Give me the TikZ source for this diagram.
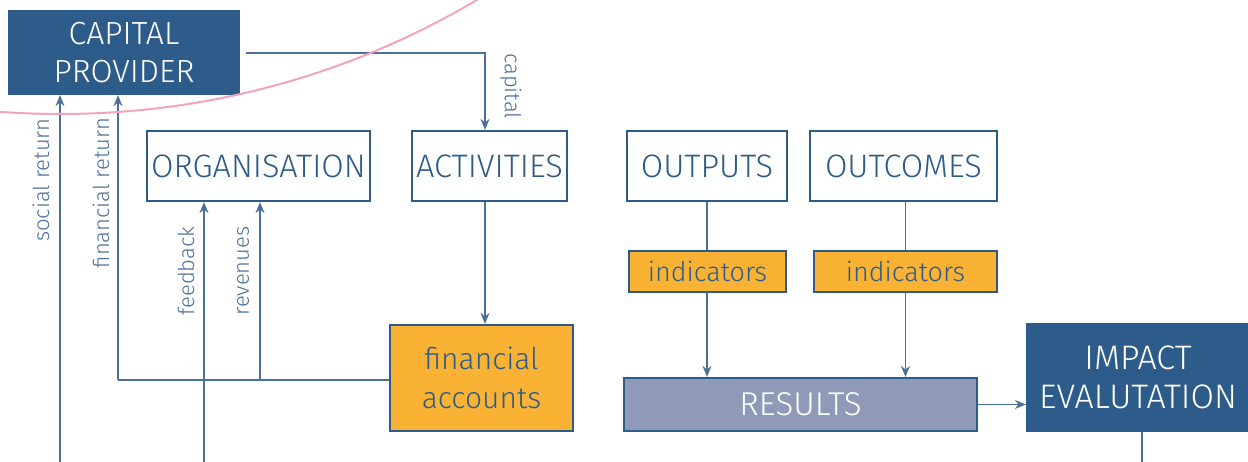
\documentclass[tikz,border=0pt]{standalone}
\usepackage{fontspec}
\setmainfont{Fira Sans}[UprightFont={* Light}]
\usetikzlibrary{arrows.meta}
\definecolor{navy}{HTML}{2E5C8A}
\definecolor{wire}{HTML}{4D709A}
\definecolor{amber}{HTML}{F9B233}
\definecolor{slate}{HTML}{8F9AB9}
\definecolor{rose}{HTML}{F4A3BB}
\tikzset{
  base/.style={rectangle, draw=navy, line width=2.2pt, inner sep=0pt, align=center},
  darkbox/.style={base, fill=navy, text=white, font=\fontsize{32}{38}\selectfont},
  whitebox/.style={base, fill=white, text=navy, font=\fontsize{32.5}{36}\selectfont},
  tagbox/.style={base, fill=amber, text=navy, font=\fontsize{27}{30}\selectfont},
  resbox/.style={base, fill=slate, text=white, font=\fontsize{33}{34}\selectfont},
  wireline/.style={draw=wire, line width=1.5pt},
  arr/.style={wireline, -{Stealth[length=11pt, width=9pt]}},
  flowlabel/.style={text=wire, font=\fontsize{22}{24}\selectfont, inner sep=0pt}
}
\begin{document}
\begin{tikzpicture}[x=1pt, y=-1pt]
\useasboundingbox (0,0) rectangle (1248,462);

% boxes
\node[darkbox, minimum width=230pt, minimum height=83pt] (cap) at (124,52.5) {CAPITAL\\PROVIDER};
\node[whitebox, minimum width=223pt, minimum height=70pt] (org) at (258.5,166) {ORGANISATION};
\node[whitebox, minimum width=155pt, minimum height=70pt] (act) at (489.5,166) {ACTIVITIES};
\node[whitebox, minimum width=160pt, minimum height=70pt] (outp) at (707,166) {OUTPUTS};
\node[whitebox, minimum width=187pt, minimum height=70pt] (outc) at (903.5,166) {OUTCOMES};
\node[tagbox, minimum width=157pt, minimum height=41pt] (ind1) at (707.5,271.5) {indicators};
\node[tagbox, minimum width=183pt, minimum height=41pt] (ind2) at (905.5,271.5) {indicators};
\node[tagbox, font=\fontsize{30}{39}\selectfont, minimum width=183pt, minimum height=106pt] (fin) at (481.5,378) {financial\\accounts};
\node[resbox, minimum width=353pt, minimum height=53pt] (res) at (800.5,404.5) {RESULTS};
\node[darkbox, font=\fontsize{34}{39}\selectfont, minimum width=222pt, minimum height=107pt] (imp) at (1138,377.5) {IMPACT\\EVALUTATION};

% anchor points for the free ends and bends
\coordinate (capturn) at (485,53);
\coordinate (finrow) at (118,380);
\coordinate (revup) at (260,380);
\coordinate (fbfoot) at (204,462);
\coordinate (srfoot) at (60,462);
\coordinate (impfoot) at (1142,462);

% connectors
\draw[arr, shorten <=6pt] (cap.east |- capturn) -- (capturn) -- (capturn |- act.north);
\draw[arr] (capturn |- act.south) -- (capturn |- fin.north);
\draw[wireline] (fin.west |- finrow) -- (finrow);
\draw[arr] (finrow) -- (finrow |- cap.south);
\draw[arr] (revup) -- (revup |- org.south);
\draw[arr] (fbfoot) -- (fbfoot |- org.south);
\draw[arr] (srfoot) -- (srfoot |- cap.south);
\draw[wireline] (outp.south) -- (outp.south |- ind1.north);
\draw[arr] (outp.south |- ind1.south) -- (outp.south |- res.north);
\draw[wireline] (ind2.north |- outc.south) -- (ind2.north);
\draw[arr] (ind2.south) -- (ind2.south |- res.north);
\draw[arr] (res.east) -- (imp.west |- res.east);
\draw[wireline] (impfoot |- imp.south) -- (impfoot);

% flow labels
\node[flowlabel, rotate=90] (lsoc) at (41,180) {social return};
\node[flowlabel, rotate=90] (lfin) at (101,193) {financial return};
\node[flowlabel, rotate=90] (lfb) at (186,271) {feedback};
\node[flowlabel, rotate=90] (lrev) at (243,271) {revenues};
\node[flowlabel, rotate=-90] (lcap) at (511,86) {capital};

% pink arc across the top left
\begin{scope}
\clip (0,0) rectangle (1248,462);
\draw[rose, line width=2pt] (60,-704) circle (818pt);
\end{scope}
\end{tikzpicture}
\end{document}
